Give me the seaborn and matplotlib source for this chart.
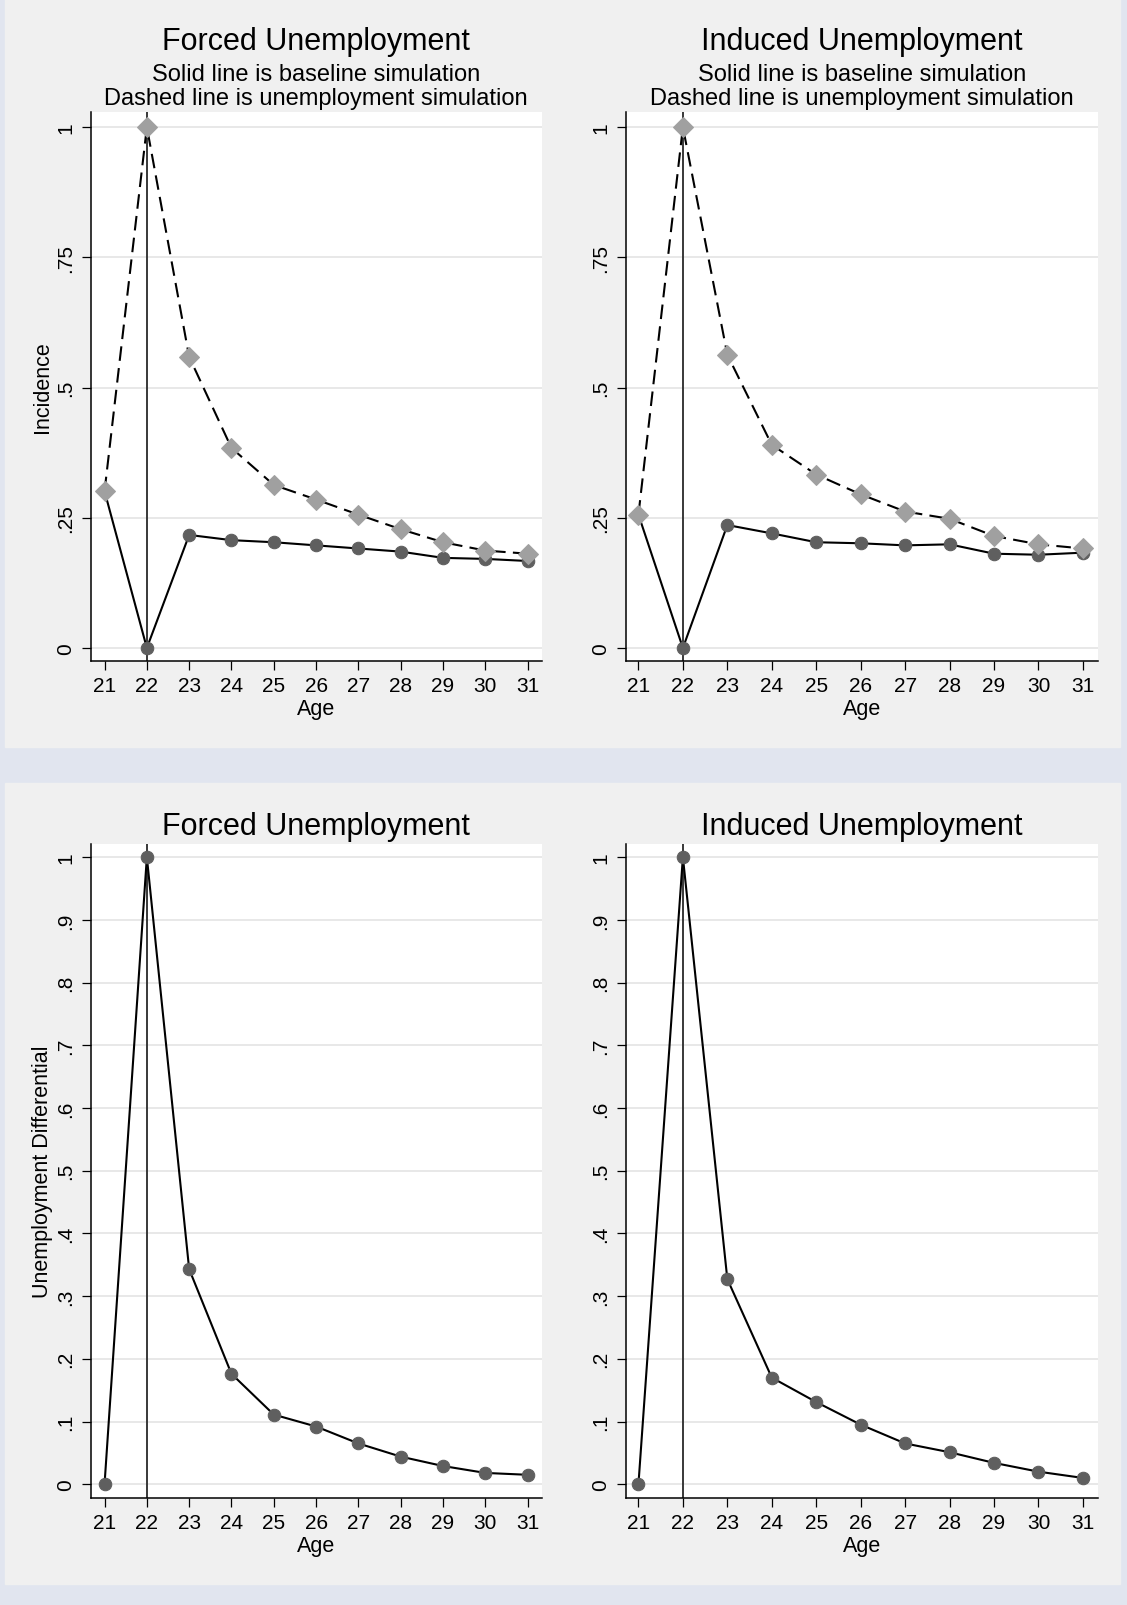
import matplotlib
matplotlib.use('Agg')
import matplotlib.pyplot as plt
import seaborn as sns
from matplotlib.patches import Rectangle

# data
ages = list(range(21, 32))

forced_baseline = [0.301, 0.0, 0.217, 0.207, 0.203, 0.197, 0.191, 0.185, 0.173, 0.171, 0.167]
forced_unemp = [0.301, 1.0, 0.559, 0.384, 0.313, 0.285, 0.256, 0.228, 0.203, 0.187, 0.181]

induced_baseline = [0.256, 0.0, 0.236, 0.220, 0.203, 0.201, 0.197, 0.199, 0.181, 0.179, 0.183]
induced_unemp = [0.256, 1.0, 0.563, 0.390, 0.333, 0.295, 0.262, 0.248, 0.215, 0.199, 0.191]

forced_diff = [0.0, 1.0, 0.343, 0.176, 0.111, 0.092, 0.065, 0.044, 0.029, 0.018, 0.015]
induced_diff = [0.0, 1.0, 0.327, 0.170, 0.131, 0.095, 0.065, 0.051, 0.034, 0.020, 0.010]

top_yticks = [0, 0.25, 0.5, 0.75, 1]
top_ylabels = ['0', '.25', '.5', '.75', '1']
bot_yticks = [0, 0.1, 0.2, 0.3, 0.4, 0.5, 0.6, 0.7, 0.8, 0.9, 1]
bot_ylabels = ['0', '.1', '.2', '.3', '.4', '.5', '.6', '.7', '.8', '.9', '1']

plt.rcParams['font.family'] = ['Liberation Sans', 'DejaVu Sans']

W, H = 1127, 1606
fig = plt.figure(figsize=(W / 100, H / 100), dpi=100, facecolor='#e1e5ef')

# gray graph regions (Stata style), kept behind the axes
fig.patches.append(Rectangle((5 / W, (H - 748) / H), 1115 / W, 748 / H,
                             transform=fig.transFigure, color='#f0f0f0', zorder=-10))
fig.patches.append(Rectangle((5 / W, (H - 1585) / H), 1115 / W, 801 / H,
                             transform=fig.transFigure, color='#f0f0f0', zorder=-10))


def make_ax(x0, x1, y0, y1):
    return fig.add_axes([x0 / W, (H - y1) / H, (x1 - x0) / W, (y1 - y0) / H])


def style_ax(ax, xlim, ylim, yticks, ylabels, ylabel):
    ax.set_facecolor('white')
    ax.set_xlim(*xlim)
    ax.set_ylim(*ylim)
    ax.set_xticks(ages)
    ax.set_xticklabels([str(a) for a in ages])
    ax.set_yticks(yticks)
    ax.set_yticklabels(ylabels, rotation=90, va='center')
    ax.grid(axis='y', color='#e8e8e8', lw=1.4)
    ax.grid(axis='x', visible=False)
    ax.set_axisbelow(True)
    for s in ['top', 'right']:
        ax.spines[s].set_visible(False)
    for s in ['left', 'bottom']:
        ax.spines[s].set_color('black')
        ax.spines[s].set_linewidth(1.1)
    ax.tick_params(direction='out', length=6.5, width=0.9, labelsize=15, color='black')
    ax.tick_params(axis='x', pad=4)
    ax.tick_params(axis='y', pad=5)
    ax.set_xlabel('Age', fontsize=15.5, labelpad=2.5)
    ax.set_ylabel(ylabel, fontsize=15.5, labelpad=2)
    ax.axvline(22, color='#383838', lw=1.4, zorder=1)


def draw_pair(ax, base, unemp):
    sns.lineplot(x=ages, y=base, ax=ax, color='black', lw=1.5, marker='o', ms=9,
                 markerfacecolor='#5f5f5f', markeredgecolor='#5f5f5f', zorder=3)
    sns.lineplot(x=ages, y=unemp, ax=ax, color='black', lw=1.5, linestyle=(0, (7, 3.5)),
                 marker='D', ms=10, markerfacecolor='#a0a0a0', markeredgecolor='#a0a0a0', zorder=4)


def draw_diff(ax, diff):
    sns.lineplot(x=ages, y=diff, ax=ax, color='black', lw=1.5, marker='o', ms=9,
                 markerfacecolor='#5f5f5f', markeredgecolor='#5f5f5f', zorder=3)


# GRAPH 1 - forced, incidence
ax1 = make_ax(91, 542, 113, 662)
draw_pair(ax1, forced_baseline, forced_unemp)
style_ax(ax1, (20.68, 31.34), (-0.025, 1.029), top_yticks, top_ylabels, 'Incidence')

# GRAPH 2 - induced, incidence
ax2 = make_ax(626, 1098, 113, 662)
draw_pair(ax2, induced_baseline, induced_unemp)
style_ax(ax2, (20.72, 31.34), (-0.025, 1.029), top_yticks, top_ylabels, '')

# GRAPH 3 - forced, differential
ax3 = make_ax(91, 542, 845, 1499)
draw_diff(ax3, forced_diff)
style_ax(ax3, (20.68, 31.34), (-0.022, 1.021), bot_yticks, bot_ylabels, 'Unemployment Differential')

# GRAPH 4 - induced, differential
ax4 = make_ax(626, 1098, 845, 1499)
draw_diff(ax4, induced_diff)
style_ax(ax4, (20.72, 31.34), (-0.022, 1.021), bot_yticks, bot_ylabels, '')

# titles
for cx, name in [(316, 'Forced Unemployment'), (862, 'Induced Unemployment')]:
    fig.text(cx / W, 1 - 42 / H, name, ha='center', va='center', fontsize=22)
    fig.text(cx / W, 1 - 75 / H, 'Solid line is baseline simulation', ha='center', va='center', fontsize=17)
    fig.text(cx / W, 1 - 99.5 / H, 'Dashed line is unemployment simulation', ha='center', va='center', fontsize=17)
    fig.text(cx / W, 1 - 827 / H, name, ha='center', va='center', fontsize=22)

fig.savefig('out.png', dpi=100, facecolor=fig.get_facecolor())
